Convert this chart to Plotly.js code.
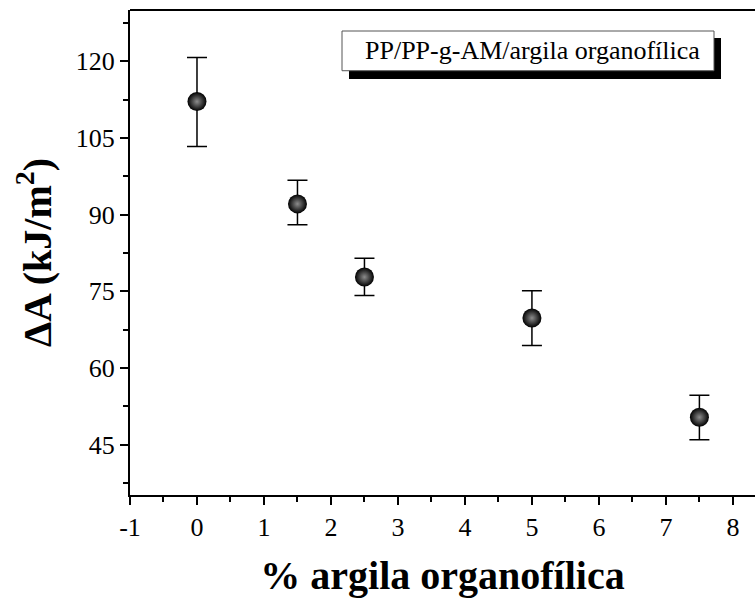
<!DOCTYPE html>
<html>
<head>
<meta charset="utf-8">
<script src="https://cdn.plot.ly/plotly-3.0.1.min.js"></script>
<style>html,body{margin:0;padding:0;background:#fff;}#chart{width:755px;height:600px;}</style>
</head>
<body>
<div id="chart"></div>
<script>
// Data
const clayPercent = [0, 1.5, 2.5, 5, 7.5];
const deltaA = [112.1, 92.1, 77.8, 69.8, 50.4];
const errUpper = [8.6, 4.6, 3.7, 5.3, 4.3];
const errLower = [8.8, 4.1, 3.6, 5.4, 4.4];
const xTickVals = [-1, 0, 1, 2, 3, 4, 5, 6, 7, 8];
const xTickText = ['-1', '0', '1', '2', '3', '4', '5', '6', '7', '8'];
const yTickVals = [45, 60, 75, 90, 105, 120];
const yTickText = ['45', '60', '75', '90', '105', '120'];
const legendLabel = 'PP/PP-g-AM/argila organofílica';
const xTitle = '% argila organofílica';
const yTitle = 'ΔA (kJ/m<sup>2</sup>)';

const serif = 'Liberation Serif, Times New Roman, serif';

const trace = {
  x: clayPercent,
  y: deltaA,
  type: 'scatter',
  mode: 'markers',
  marker: {
    size: 19,
    color: '#000000',
    gradient: {type: 'radial', color: '#8c8c8c'},
    line: {width: 0}
  },
  error_y: {
    type: 'data',
    symmetric: false,
    array: errUpper,
    arrayminus: errLower,
    color: '#000',
    thickness: 1.5,
    width: 10
  },
  showlegend: false,
  hoverinfo: 'x+y'
};

const layout = {
  width: 755,
  height: 600,
  margin: {l: 130, r: 0, t: 10, b: 105},
  paper_bgcolor: '#fff',
  plot_bgcolor: '#fff',
  font: {family: serif, color: '#000'},
  xaxis: {
    range: [-1, 8.33],
    tickmode: 'array',
    tickvals: xTickVals,
    ticktext: xTickText,
    ticks: 'outside',
    ticklen: 8,
    tickwidth: 2,
    tickcolor: '#000',
    minor: {dtick: 0.5, tick0: -1, ticks: 'outside', ticklen: 5, tickwidth: 2, tickcolor: '#000', showgrid: false},
    showline: true,
    linecolor: '#000',
    linewidth: 2,
    showgrid: false,
    zeroline: false,
    tickfont: {family: serif, size: 26, color: '#000'},
    title: {text: '<b>' + xTitle + '</b>', font: {family: serif, size: 40, color: '#000'}, standoff: 20},
    automargin: false
  },
  yaxis: {
    range: [35.2, 130],
    tickmode: 'array',
    tickvals: yTickVals,
    ticktext: yTickText,
    ticks: 'outside',
    ticklen: 8,
    tickwidth: 2,
    tickcolor: '#000',
    minor: {dtick: 7.5, tick0: 0, ticks: 'outside', ticklen: 5, tickwidth: 2, tickcolor: '#000', showgrid: false},
    showline: true,
    linecolor: '#000',
    linewidth: 2,
    showgrid: false,
    zeroline: false,
    tickfont: {family: serif, size: 26, color: '#000'},
    title: {text: '<b>' + yTitle + '</b>', font: {family: serif, size: 40, color: '#000'}, standoff: 12},
    automargin: false
  },
  shapes: [
    {type: 'line', xref: 'paper', yref: 'paper', x0: 0, x1: 1, y0: 1, y1: 1, line: {color: '#000', width: 2}},
    {type: 'rect', xref: 'paper', yref: 'paper', x0: 0.3504, x1: 0.9456, y0: 0.8577, y1: 0.9423,
     fillcolor: '#000', line: {width: 0}},
    {type: 'rect', xref: 'paper', yref: 'paper', x0: 0.3392, x1: 0.9344, y0: 0.8748, y1: 0.9567,
     fillcolor: '#fff', line: {color: '#555', width: 1}}
  ],
  annotations: [
    {xref: 'paper', yref: 'paper', x: 0.9152, y: 0.9157, xanchor: 'right', yanchor: 'middle',
     text: legendLabel, showarrow: false, font: {family: serif, size: 26, color: '#000'}}
  ]
};

Plotly.newPlot('chart', [trace], layout, {displayModeBar: false, staticPlot: true});
</script>
</body>
</html>
